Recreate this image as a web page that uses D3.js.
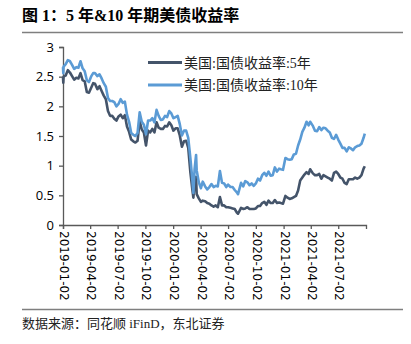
<!DOCTYPE html>
<html><head><meta charset="utf-8">
<script src="https://cdn.jsdelivr.net/npm/d3@7"></script>
<style>
html,body{margin:0;padding:0;background:#fff;}
svg{display:block;}
</style>
</head><body>
<svg id="c" width="411" height="344"></svg>
<script>
const dates = ["2019-01-02","2019-01-03","2019-01-04","2019-01-11","2019-01-18","2019-01-25","2019-02-01","2019-02-08","2019-02-15","2019-02-22","2019-03-01","2019-03-08","2019-03-15","2019-03-22","2019-03-29","2019-04-05","2019-04-12","2019-04-18","2019-04-26","2019-05-03","2019-05-10","2019-05-17","2019-05-24","2019-05-31","2019-06-07","2019-06-14","2019-06-21","2019-06-28","2019-07-05","2019-07-12","2019-07-19","2019-07-26","2019-08-02","2019-08-09","2019-08-16","2019-08-23","2019-08-30","2019-09-06","2019-09-13","2019-09-20","2019-09-27","2019-10-04","2019-10-11","2019-10-18","2019-10-25","2019-11-01","2019-11-08","2019-11-15","2019-11-22","2019-11-29","2019-12-06","2019-12-13","2019-12-20","2019-12-27","2020-01-03","2020-01-10","2020-01-17","2020-01-24","2020-01-31","2020-02-07","2020-02-14","2020-02-21","2020-02-28","2020-03-06","2020-03-09","2020-03-13","2020-03-18","2020-03-20","2020-03-27","2020-04-03","2020-04-09","2020-04-17","2020-04-24","2020-05-01","2020-05-08","2020-05-15","2020-05-22","2020-05-29","2020-06-05","2020-06-12","2020-06-19","2020-06-26","2020-07-02","2020-07-10","2020-07-17","2020-07-24","2020-07-31","2020-08-04","2020-08-14","2020-08-21","2020-08-28","2020-09-04","2020-09-11","2020-09-18","2020-09-25","2020-10-02","2020-10-09","2020-10-16","2020-10-23","2020-10-30","2020-11-06","2020-11-13","2020-11-20","2020-11-27","2020-12-04","2020-12-11","2020-12-18","2020-12-24","2020-12-31","2021-01-08","2021-01-15","2021-01-22","2021-01-29","2021-02-05","2021-02-12","2021-02-19","2021-02-26","2021-03-05","2021-03-12","2021-03-19","2021-03-26","2021-03-31","2021-04-09","2021-04-16","2021-04-23","2021-04-30","2021-05-07","2021-05-14","2021-05-21","2021-05-28","2021-06-04","2021-06-11","2021-06-18","2021-06-25","2021-07-02","2021-07-09","2021-07-16","2021-07-23","2021-07-30","2021-08-06","2021-08-13","2021-08-20","2021-08-27","2021-09-03","2021-09-10","2021-09-17","2021-09-24","2021-09-28"];
const us5y = [2.49,2.40,2.50,2.52,2.61,2.57,2.51,2.45,2.48,2.47,2.56,2.44,2.42,2.24,2.23,2.31,2.39,2.38,2.29,2.34,2.26,2.18,2.12,1.92,1.84,1.84,1.79,1.76,1.83,1.86,1.80,1.85,1.66,1.57,1.44,1.41,1.39,1.42,1.75,1.61,1.56,1.34,1.59,1.56,1.62,1.56,1.73,1.64,1.62,1.62,1.67,1.66,1.73,1.68,1.59,1.63,1.63,1.51,1.32,1.41,1.42,1.30,0.89,0.58,0.46,0.70,0.81,0.52,0.45,0.39,0.41,0.40,0.37,0.36,0.33,0.31,0.33,0.30,0.47,0.33,0.33,0.30,0.30,0.29,0.28,0.27,0.21,0.19,0.29,0.27,0.28,0.30,0.27,0.27,0.27,0.28,0.32,0.32,0.37,0.39,0.34,0.41,0.37,0.37,0.42,0.37,0.38,0.37,0.36,0.49,0.46,0.44,0.45,0.47,0.49,0.58,0.75,0.80,0.85,0.89,0.86,0.94,0.87,0.84,0.84,0.86,0.78,0.84,0.82,0.80,0.78,0.75,0.88,0.90,0.86,0.80,0.78,0.71,0.69,0.77,0.77,0.77,0.80,0.78,0.80,0.84,0.95,0.99];
const us10y = [2.66,2.56,2.67,2.71,2.78,2.76,2.70,2.63,2.66,2.65,2.76,2.64,2.59,2.44,2.41,2.50,2.56,2.56,2.51,2.54,2.47,2.39,2.33,2.14,2.09,2.09,2.07,2.00,2.04,2.12,2.06,2.08,1.86,1.74,1.55,1.52,1.50,1.55,1.90,1.74,1.69,1.53,1.76,1.76,1.80,1.73,1.94,1.84,1.77,1.78,1.84,1.82,1.92,1.88,1.80,1.82,1.84,1.70,1.51,1.59,1.59,1.47,1.13,0.74,0.54,0.94,1.18,0.92,0.72,0.62,0.73,0.65,0.60,0.64,0.69,0.64,0.66,0.65,0.91,0.71,0.70,0.64,0.68,0.64,0.64,0.59,0.55,0.52,0.71,0.65,0.74,0.72,0.67,0.70,0.66,0.70,0.78,0.75,0.84,0.88,0.83,0.90,0.83,0.84,0.97,0.90,0.95,0.94,0.93,1.13,1.11,1.10,1.11,1.19,1.20,1.34,1.44,1.57,1.64,1.74,1.68,1.74,1.67,1.59,1.58,1.65,1.60,1.64,1.63,1.59,1.56,1.47,1.45,1.52,1.44,1.37,1.30,1.30,1.24,1.31,1.29,1.26,1.31,1.33,1.34,1.37,1.47,1.54];
const xTickLabels = ["2019-01-02","2019-04-02","2019-07-02","2019-10-02","2020-01-02","2020-04-02","2020-07-02","2020-10-02","2021-01-02","2021-04-02","2021-07-02"];
const yTicks = [0,0.5,1,1.5,2,2.5,3];
const seriesNames = ["美国:国债收益率:5年","美国:国债收益率:10年"];
const seriesColors = ["#44546A","#5B9BD5"];
const titleText = "图 1：5 年&10 年期美债收益率";
const sourceText = "数据来源：同花顺 iFinD，东北证券";

const parse = d3.timeParse("%Y-%m-%d");
const svg = d3.select("#c");
const x = d3.scaleTime().domain([parse("2019-01-02"), parse("2021-10-02")]).range([63, 366]);
const y = d3.scaleLinear().domain([0, 3]).range([225, 47]);

// Title + rules
svg.append("text").attr("x", 22).attr("y", 21)
  .attr("font-family", "'Liberation Serif','Noto Sans CJK SC',serif")
  .attr("font-weight", "bold").attr("font-size", 16).attr("fill", "#000").text(titleText);
svg.append("line").attr("x1", 22).attr("x2", 403).attr("y1", 32.5).attr("y2", 32.5)
  .attr("stroke", "#7f7f7f").attr("stroke-width", 1.5);
svg.append("line").attr("x1", 22).attr("x2", 403).attr("y1", 309.5).attr("y2", 309.5)
  .attr("stroke", "#7f7f7f").attr("stroke-width", 1.5);
svg.append("text").attr("x", 22).attr("y", 328)
  .attr("font-family", "'Liberation Serif','Noto Sans CJK SC',serif")
  .attr("font-size", 13).attr("fill", "#222").text(sourceText);

// Axes
const axisColor = "#595959";
const yAxis = svg.append("g").attr("transform", "translate(63,0)")
  .call(d3.axisLeft(y).tickValues(yTicks).tickSize(4).tickFormat(d3.format("")));
yAxis.select(".domain").attr("stroke", axisColor).attr("stroke-width", 1.3);
yAxis.selectAll(".tick line").attr("stroke", axisColor).attr("stroke-width", 1.3);
yAxis.selectAll(".tick text").attr("x", -9)
  .attr("font-family", "'Open Sans',sans-serif").attr("font-size", 13).attr("fill", "#000");

const xTickDates = xTickLabels.map(parse);
const xAxis = svg.append("g").attr("transform", "translate(0,225)")
  .call(d3.axisBottom(x).tickValues(xTickDates).tickSize(4).tickSizeOuter(4).tickFormat(d3.timeFormat("%Y-%m-%d")));
xAxis.select(".domain").attr("stroke", axisColor).attr("stroke-width", 1.3);
xAxis.selectAll(".tick line").attr("stroke", axisColor).attr("stroke-width", 1.3);
xAxis.selectAll(".tick text")
  .attr("font-family", "'DejaVu Sans',sans-serif").attr("font-size", 12).attr("fill", "#000")
  .attr("text-anchor", "start").attr("dy", null)
  .attr("transform", "translate(-4,5) rotate(90)").attr("x", 0).attr("y", 0)
  .attr("dominant-baseline", "middle");
xAxis.selectAll(".tick text").attr("transform", "translate(0,6) rotate(90)");

// Lines
const series = [us5y, us10y];
const line = d3.line().x((d, i) => x(parse(dates[i]))).y(d => y(d));
// draw 10Y first? Reference: dark drawn first, light on top
series.forEach((s, k) => {
  svg.append("path").datum(s).attr("d", line).attr("fill", "none")
    .attr("stroke", seriesColors[k]).attr("stroke-width", 2.6).attr("stroke-linejoin", "round");
});

// Legend
seriesNames.forEach((n, k) => {
  const ly = 62.5 + k * 22.5;
  svg.append("line").attr("x1", 148).attr("x2", 182).attr("y1", ly).attr("y2", ly)
    .attr("stroke", seriesColors[k]).attr("stroke-width", 3);
  svg.append("text").attr("x", 184).attr("y", ly + 5)
    .attr("font-family", "'Liberation Serif','Noto Sans CJK SC',serif")
    .attr("font-size", 14).attr("fill", "#222").text(n);
});
</script>
</body></html>
